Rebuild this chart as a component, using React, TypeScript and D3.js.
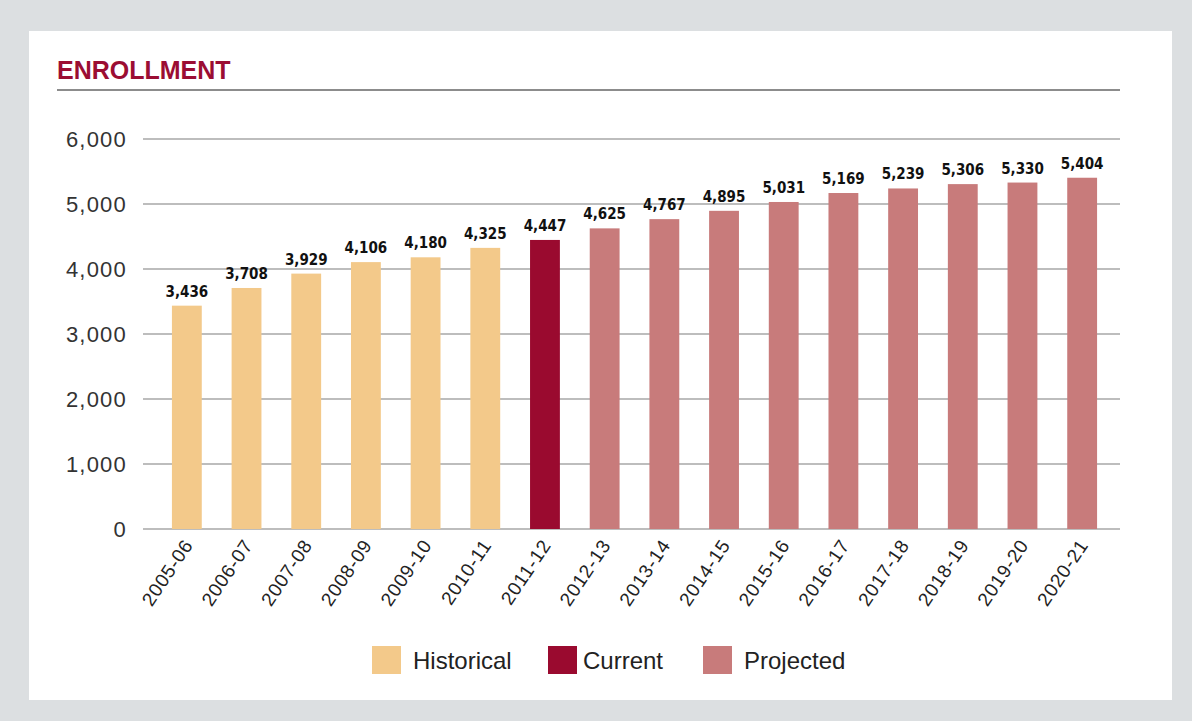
import React, { useEffect, useRef } from 'react';
import * as d3 from 'd3';

const years = [
  '2005-06', '2006-07', '2007-08', '2008-09', '2009-10', '2010-11', '2011-12', '2012-13',
  '2013-14', '2014-15', '2015-16', '2016-17', '2017-18', '2018-19', '2019-20', '2020-21',
];
const enrollment = [
  3436, 3708, 3929, 4106, 4180, 4325, 4447, 4625, 4767, 4895, 5031, 5169, 5239, 5306, 5330, 5404,
];
const status = [
  'Historical', 'Historical', 'Historical', 'Historical', 'Historical', 'Historical', 'Current',
  'Projected', 'Projected', 'Projected', 'Projected', 'Projected', 'Projected', 'Projected',
  'Projected', 'Projected',
];
const legendKeys = ['Historical', 'Current', 'Projected'];
const yTicks = [0, 1000, 2000, 3000, 4000, 5000, 6000];

const W = 1192;
const H = 721;

const App: React.FC = () => {
  const ref = useRef<SVGSVGElement>(null);

  useEffect(() => {
    const svg = d3.select(ref.current);
    svg.selectAll('*').remove();

    // frame
    svg.append('rect').attr('width', W).attr('height', H).attr('fill', '#dcdfe1');
    svg.append('rect').attr('x', 29).attr('y', 31).attr('width', 1143).attr('height', 669).attr('fill', '#fff');

    // title
    svg.append('text')
      .attr('x', 57).attr('y', 79)
      .attr('font-family', '"Liberation Sans", Arial, sans-serif')
      .attr('font-weight', 'bold')
      .attr('font-size', 25)
      .attr('fill', '#9b0d33')
      .text('ENROLLMENT');
    svg.append('line')
      .attr('x1', 57).attr('x2', 1120).attr('y1', 90).attr('y2', 90)
      .attr('stroke', '#8c8c8c').attr('stroke-width', 2);

    const x = d3.scaleBand<string>()
      .domain(years)
      .range([157, 1112])
      .paddingInner(0.5)
      .paddingOuter(0.25);

    const y = d3.scaleLinear().domain([0, 6000]).range([529, 139]);

    const color = d3.scaleOrdinal<string, string>()
      .domain(legendKeys)
      .range(['#f3c98a', '#9a0a2f', '#c87b7b']);

    // grid + y labels
    const grid = svg.append('g');
    grid.selectAll('line')
      .data(yTicks)
      .enter().append('line')
      .attr('x1', 143).attr('x2', 1120)
      .attr('y1', (d) => y(d)).attr('y2', (d) => y(d))
      .attr('stroke', '#bdbdbd').attr('stroke-width', 2);
    grid.selectAll('text')
      .data(yTicks)
      .enter().append('text')
      .attr('x', 127)
      .attr('y', (d) => y(d) + 8)
      .attr('text-anchor', 'end')
      .attr('font-family', '"Liberation Sans", Arial, sans-serif')
      .attr('font-size', 22)
      .attr('letter-spacing', 1.2)
      .attr('fill', '#333')
      .text((d) => d3.format(',')(d));

    // bars
    svg.append('g').selectAll('rect')
      .data(years)
      .enter().append('rect')
      .attr('x', (d) => x(d)!)
      .attr('y', (d, i) => y(enrollment[i]))
      .attr('width', x.bandwidth())
      .attr('height', (d, i) => y(0) - y(enrollment[i]))
      .attr('fill', (d, i) => color(status[i]));

    // value labels
    svg.append('g').selectAll('text')
      .data(years)
      .enter().append('text')
      .attr('x', (d) => x(d)! + x.bandwidth() / 2)
      .attr('y', (d, i) => y(enrollment[i]) - 9)
      .attr('text-anchor', 'middle')
      .attr('font-family', '"Liberation Sans Narrow", "DejaVu Sans Condensed", Arial, sans-serif')
      .attr('font-weight', 'bold')
      .attr('font-size', 15)
      .attr('fill', '#111')
      .text((d, i) => d3.format(',')(enrollment[i]));

    // x labels
    svg.append('g').selectAll('text')
      .data(years)
      .enter().append('text')
      .attr('transform', (d) => `translate(${x(d)! + x.bandwidth() / 2 + 7},${545}) rotate(-56)`)
      .attr('text-anchor', 'end')
      .attr('font-family', '"Liberation Sans", Arial, sans-serif')
      .attr('font-size', 19)
      .attr('letter-spacing', 0.8)
      .attr('fill', '#222')
      .text((d) => d);

    // legend
    const legendX = [372, 548, 703];
    const lg = svg.append('g').selectAll('g')
      .data(legendKeys)
      .enter().append('g')
      .attr('transform', (d, i) => `translate(${legendX[i]},646)`);
    lg.append('rect')
      .attr('width', 29).attr('height', 28)
      .attr('fill', (d) => color(d));
    lg.append('text')
      .attr('x', (d, i) => (i === 1 ? 35 : 41))
      .attr('y', 23)
      .attr('font-family', '"Liberation Sans", Arial, sans-serif')
      .attr('font-size', 24)
      .attr('fill', '#222')
      .text((d) => d);
  }, []);

  return (
    <svg
      ref={ref}
      width={W}
      height={H}
      style={{ position: 'absolute', left: 0, top: 0 }}
    />
  );
};

export default App;
